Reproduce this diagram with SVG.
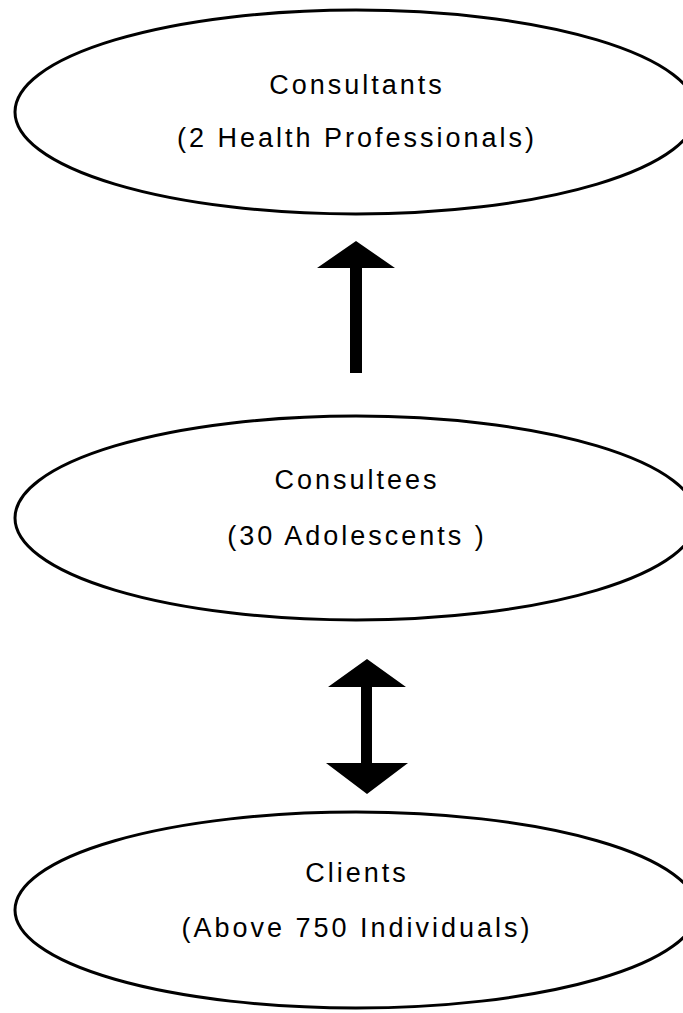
<svg xmlns="http://www.w3.org/2000/svg" width="683" height="1013" viewBox="0 0 683 1013">
<style>
.node ellipse{fill:#fff;stroke:#000;stroke-width:3}
.node text{font-family:"Liberation Sans",Arial,sans-serif;font-size:27px;letter-spacing:3px;fill:#000;text-anchor:middle}
.conn path{fill:#000;stroke:none}
</style>
<rect width="683" height="1013" fill="#fff"/>
<g id="consultants" class="node">
<ellipse cx="356" cy="112" rx="341" ry="102"/>
<text x="357" y="94">Consultants</text>
<text x="357" y="147">(2 Health Professionals)</text>
</g>
<g id="consultees" class="node">
<ellipse cx="356" cy="518" rx="341" ry="102"/>
<text x="357" y="489">Consultees</text>
<text x="357" y="545">(30 Adolescents )</text>
</g>
<g id="clients" class="node">
<ellipse cx="356" cy="910" rx="341" ry="98"/>
<text x="357" y="882">Clients</text>
<text x="357" y="937">(Above 750 Individuals)</text>
</g>
<g id="connectors" class="conn">
<path d="M356,241 L395,268 L362,268 L362,373 L350,373 L350,268 L317,268 Z"/>
<path d="M367,659 L406,687 L372,687 L372,763 L408,763 L367,794 L326,763 L361,763 L361,687 L328,687 Z"/>
</g>
</svg>
